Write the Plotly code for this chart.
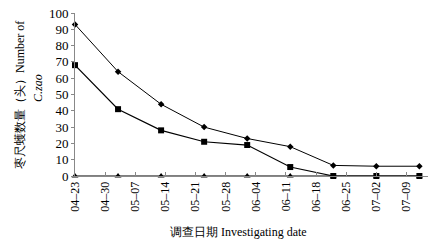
import plotly.graph_objects as go

dates = ["2010-04-23", "2010-05-03", "2010-05-13", "2010-05-23", "2010-06-02",
         "2010-06-12", "2010-06-22", "2010-07-02", "2010-07-12"]
series_diamond = [93, 64, 44, 30, 23, 18, 6.5, 6, 6]
series_square = [68, 41, 28, 21, 19, 5.5, 0, 0, 0]
series_triangle = [0, 0, 0, 0, 0, 0, 0, 0, 0]

tick_dates = ["2010-04-23", "2010-04-30", "2010-05-07", "2010-05-14", "2010-05-21",
              "2010-05-28", "2010-06-04", "2010-06-11", "2010-06-18", "2010-06-25",
              "2010-07-02", "2010-07-09"]
tick_labels = ["04–23", "04–30", "05–07", "05–14", "05–21", "05–28",
               "06–04", "06–11", "06–18", "06–25", "07–02", "07–09"]
y_ticks = [0, 10, 20, 30, 40, 50, 60, 70, 80, 90, 100]

serif = "Liberation Serif"
cjk = "Liberation Serif"

L, R, T, B, W, H = 75, 5, 13, 70, 433, 246
PW, PH = W - L - R, H - T - B


def px_x(x):
    return (x - L) / PW


def px_y(y):
    return (H - B - y) / PH


fig = go.Figure()
fig.add_trace(go.Scatter(x=dates, y=series_triangle, mode="lines+markers",
                         line=dict(color="#555555", width=1.5),
                         marker=dict(symbol="triangle-up", size=6, color="black"),
                         cliponaxis=False, showlegend=False))
fig.add_trace(go.Scatter(x=dates, y=series_square, mode="lines+markers",
                         line=dict(color="black", width=1.2),
                         marker=dict(symbol="square", size=6, color="black"),
                         cliponaxis=False, showlegend=False))
fig.add_trace(go.Scatter(x=dates, y=series_diamond, mode="lines+markers",
                         line=dict(color="black", width=1),
                         marker=dict(symbol="diamond", size=5, color="black"),
                         cliponaxis=False, showlegend=False))

fig.update_layout(
    width=W, height=H,
    margin=dict(l=L, r=R, t=T, b=B),
    paper_bgcolor="white", plot_bgcolor="white",
    font=dict(family=serif, size=12, color="black"),
    xaxis=dict(
        type="date",
        range=["2010-04-23", "2010-07-14"],
        tickvals=tick_dates, ticktext=tick_labels,
        tickangle=-90,
        ticks="inside", ticklen=4, tickcolor="#888888",
        showline=True, linecolor="#888888", linewidth=1,
        showgrid=False, zeroline=False, automargin=False,
        tickfont=dict(family=serif, size=12),
    ),
    yaxis=dict(
        range=[0, 100],
        tickvals=y_ticks,
        ticks="outside", ticklen=3, tickcolor="#888888",
        showline=True, linecolor="#888888", linewidth=1,
        showgrid=False, zeroline=False, automargin=False,
        tickfont=dict(family=serif, size=13),
    ),
    annotations=[
        dict(text="调查日期 Investigating date", xref="paper", yref="paper",
             x=px_x(238), y=px_y(232), xanchor="center", yanchor="middle",
             showarrow=False, font=dict(family=cjk, size=12)),
        dict(text="枣尺蠖数量（头）Number of", xref="paper", yref="paper",
             x=px_x(20), y=px_y(95), xanchor="center", yanchor="middle",
             textangle=-90, showarrow=False, font=dict(family=cjk, size=12)),
        dict(text="<i>C.zao</i>", xref="paper", yref="paper",
             x=px_x(38), y=px_y(72), xanchor="center", yanchor="top",
             textangle=-90, showarrow=False, font=dict(family=cjk, size=12)),
    ],
)

fig.write_html("out.html", config={"displayModeBar": False},
               post_script="document.body.style.margin='0';document.body.style.overflow='hidden';")
